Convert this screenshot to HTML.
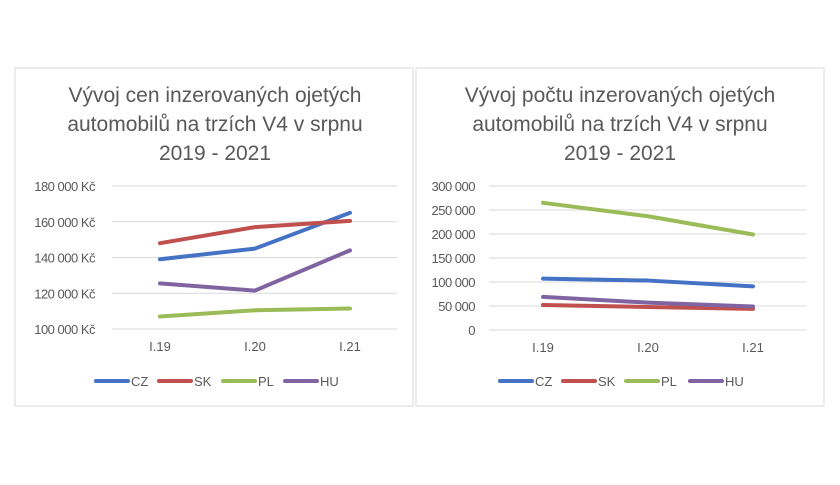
<!DOCTYPE html>
<html><head><meta charset="utf-8"><style>
body{margin:0;background:#fff;font-family:"Liberation Sans",sans-serif}
svg text{font-family:"Liberation Sans",sans-serif}
</style></head><body>
<svg width="840" height="480">
<rect x="15" y="68" width="398" height="338" fill="#fff" stroke="#d9d9d9"/>
<rect x="416" y="68" width="408" height="338" fill="#fff" stroke="#d9d9d9"/>
<g id="c1"></g><g id="c2"></g>
</svg>
<script>
const cats=["I.19","I.20","I.21"];
const names=["CZ","SK","PL","HU"];
const colors=["#4472c4","#c0504d","#9bbb59","#8064a2"];
const priceCZ=[139000,145000,165000];
const priceSK=[148000,157000,160500];
const pricePL=[107000,110500,111500];
const priceHU=[125500,121500,144000];
const priceTicks=[100000,120000,140000,160000,180000];
const priceTickLabels=["100 000 Kč","120 000 Kč","140 000 Kč","160 000 Kč","180 000 Kč"];
const countCZ=[107000,103000,91000];
const countSK=[52000,48000,44000];
const countPL=[265000,237000,199000];
const countHU=[69000,57000,49000];
const countTicks=[0,50000,100000,150000,200000,250000,300000];
const countTickLabels=["0","50 000","100 000","150 000","200 000","250 000","300 000"];
const NS="http://www.w3.org/2000/svg";
function mk(parent,tag,attrs,text){const e=document.createElementNS(NS,tag);for(const k in attrs)e.setAttribute(k,attrs[k]);if(text!==undefined)e.textContent=text;parent.appendChild(e);return e;}
function draw(g,cfg){
  const y=v=>cfg.y0+(v-cfg.vmin)/(cfg.vmax-cfg.vmin)*(cfg.y1-cfg.y0);
  const x=i=>cfg.xs+i*cfg.dx;
  cfg.title.forEach((t,i)=>{const e=mk(g,"text",{x:cfg.tx,y:102+i*29,"text-anchor":"middle","font-size":"21","fill":"#595959"},t);
    
    });
  cfg.ticks.forEach((v,i)=>{
    const l=mk(g,"line",{x1:cfg.gx0,x2:cfg.gx1,y1:y(v),y2:y(v),stroke:"#d9d9d9","stroke-width":1});
    
    
    const t=mk(g,"text",{x:cfg.lx,y:y(v)+5,"text-anchor":"end","font-size":"13","fill":"#595959","letter-spacing":"-0.5"},cfg.labels[i]);
    
    
  });
  cats.forEach((c,i)=>{const t=mk(g,"text",{x:x(i),y:cfg.y0+22,"text-anchor":"middle","font-size":"13","fill":"#595959"},c);
    
    });
  cfg.series.forEach((s,k)=>{
    const p=mk(g,"polyline",{points:s.map((v,i)=>x(i)+","+y(v)).join(" "),fill:"none",stroke:colors[k],"stroke-width":4,"stroke-linecap":"round","stroke-linejoin":"round"});
    
    
    const lx=cfg.legx[k];
    const ll=mk(g,"line",{x1:lx,x2:lx+32,y1:381,y2:381,stroke:colors[k],"stroke-width":4,"stroke-linecap":"round"});
    
    
    const lt=mk(g,"text",{x:lx+35,y:386,"font-size":"13","fill":"#595959"},names[k]);
    
    
  });
}
draw(document.getElementById("c1"),{title:["Vývoj cen inzerovaných ojetých","automobilů na trzích V4 v srpnu","2019 - 2021"],tx:215,
  vmin:100000,vmax:180000,y0:329,y1:186,gx0:112,gx1:397,lx:95,xs:160,dx:95,ticks:priceTicks,labels:priceTickLabels,
  series:[priceCZ,priceSK,pricePL,priceHU],legx:[96,159,223,285]});
draw(document.getElementById("c2"),{title:["Vývoj počtu inzerovaných ojetých","automobilů na trzích V4 v srpnu","2019 - 2021"],tx:620,
  vmin:0,vmax:300000,y0:330,y1:186,gx0:489,gx1:806,lx:475,xs:543,dx:105,ticks:countTicks,labels:countTickLabels,
  series:[countCZ,countSK,countPL,countHU],legx:[500,563,626,690]});
</script>
</body></html>
